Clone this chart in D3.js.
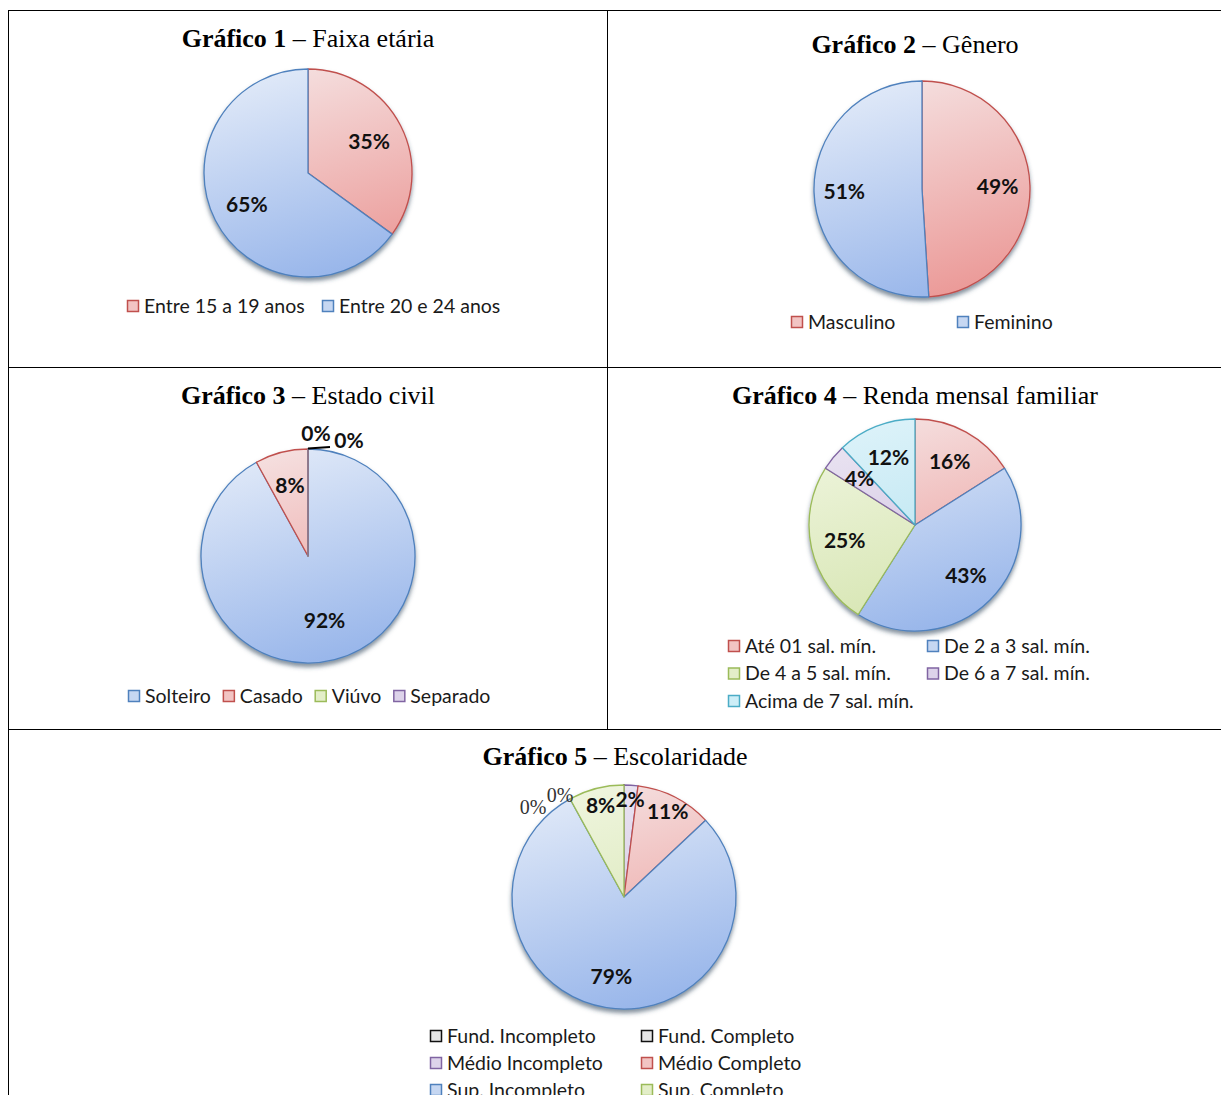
<!DOCTYPE html>
<html><head><meta charset="utf-8">
<script src="https://cdn.jsdelivr.net/npm/d3@7"></script>
<style>
body{margin:0;background:#fff;}
svg{display:block;}
.title{font-family:"Liberation Serif","Times New Roman",serif;font-size:26px;fill:#000;}
.lbl{font-family:Lato,"Open Sans",sans-serif;font-weight:bold;font-size:21px;fill:#111;}
.leg{font-family:Lato,"Open Sans",sans-serif;font-size:19.5px;fill:#1a1a1a;}
</style></head><body>
<script>
// ---- data ----
const titles = [
  ["Gráfico 1", " – Faixa etária"],
  ["Gráfico 2", " – Gênero"],
  ["Gráfico 3", " – Estado civil"],
  ["Gráfico 4", " – Renda mensal familiar"],
  ["Gráfico 5", " – Escolaridade"]
];
const c1Labels = ["Entre 15 a 19 anos", "Entre 20 e 24 anos"];
const c1Values = [35, 65];
const c1Colors = ["red", "blue"];

const c2Labels = ["Masculino", "Feminino"];
const c2Values = [49, 51];
const c2Colors = ["red", "blue"];

const c3Labels = ["Solteiro", "Casado", "Viúvo", "Separado"];
const c3Values = [92, 8, 0, 0];
const c3Colors = ["blue", "red", "green", "purple"];

const c4Labels = ["Até 01 sal. mín.", "De 2 a 3 sal. mín.", "De 4 a 5 sal. mín.", "De 6 a 7 sal. mín.", "Acima de 7 sal. mín."];
const c4Values = [16, 43, 25, 4, 12];
const c4Colors = ["red", "blue", "green", "purple", "cyan"];

const c5Labels = ["Fund. Incompleto", "Fund. Completo", "Médio Incompleto", "Médio Completo", "Sup. Incompleto", "Sup. Completo"];
const c5Values = [0, 0, 2, 11, 79, 8];
const c5Colors = ["gray", "gray", "purple", "red", "blue", "green"];

// ---- styles ----
const palette = {
  red:    {top:"#f5e0e0", bot:"#eb9997", stroke:"#c0504d", legFill:"#f2c4c3"},
  blue:   {top:"#e0e9f8", bot:"#97b5ea", stroke:"#4f81bd", legFill:"#c6d7f2"},
  green:  {top:"#eff5de", bot:"#d4e4ae", stroke:"#9bbb59", legFill:"#e3eec8"},
  purple: {top:"#ebe5f2", bot:"#cbbde0", stroke:"#8064a2", legFill:"#ddd3ea"},
  cyan:   {top:"#dcf2f9", bot:"#b0e1ef", stroke:"#4bacc6", legFill:"#cdeef7"},
  gray:   {top:"#f0f0f0", bot:"#d0d0d0", stroke:"#111111", legFill:"#e6e6e6"}
};

const W = 1221, H = 1095;
const svg = d3.select("body").append("svg").attr("width", W).attr("height", H);
svg.append("rect").attr("width", W).attr("height", H).attr("fill", "#fff");
const defs = svg.append("defs");
const f = defs.append("filter").attr("id","shadow").attr("x","-20%").attr("y","-20%").attr("width","140%").attr("height","140%");
f.append("feDropShadow").attr("dx",0).attr("dy",3.5).attr("stdDeviation",2.2).attr("flood-color","#35465e").attr("flood-opacity",0.6);

// ---- table grid ----
const grid = svg.append("g").attr("stroke","#000").attr("stroke-width",1.2).attr("shape-rendering","crispEdges");
grid.append("line").attr("x1",8).attr("x2",W).attr("y1",10.5).attr("y2",10.5);
grid.append("line").attr("x1",8).attr("x2",W).attr("y1",367.5).attr("y2",367.5);
grid.append("line").attr("x1",8).attr("x2",W).attr("y1",729.5).attr("y2",729.5);
grid.append("line").attr("x1",8.5).attr("x2",8.5).attr("y1",10).attr("y2",H);
grid.append("line").attr("x1",607.5).attr("x2",607.5).attr("y1",10).attr("y2",729);

function title(t, cx, y) {
  const tx = svg.append("text").attr("class","title").attr("x",cx).attr("y",y).attr("text-anchor","middle");
  tx.append("tspan").attr("font-weight","bold").text(t[0]);
  tx.append("tspan").text(t[1]);
}

let gid = 0;
function pie(opts) {
  const {cx, cy, r, values, colors, labelR, zeroLabels} = opts;
  const id = gid++;
  const g = svg.append("g").attr("transform", `translate(${cx},${cy})`);
  const used = [...new Set(colors)];
  used.forEach(c => {
    const lg = defs.append("linearGradient").attr("id",`g${id}${c}`)
      .attr("gradientUnits","userSpaceOnUse").attr("x1",-r*0.3).attr("y1",-r).attr("x2",r*0.3).attr("y2",r);
    lg.append("stop").attr("offset","0%").attr("stop-color",palette[c].top);
    lg.append("stop").attr("offset","100%").attr("stop-color",palette[c].bot);
  });
  const arcs = d3.pie().sort(null).value(d => d)(values);
  const arc = d3.arc().innerRadius(0).outerRadius(r);
  const sg = g.append("g").attr("filter","url(#shadow)");
  sg.selectAll("path").data(arcs).join("path")
    .attr("d", arc)
    .attr("fill", (d,i) => `url(#g${id}${colors[i]})`)
    .attr("stroke", (d,i) => palette[colors[i]].stroke)
    .attr("stroke-width", 1.3)
    .attr("stroke-linejoin","round");
  arcs.forEach((d,i) => {
    if (d.data === 0) return;
    const lr = Array.isArray(labelR) ? labelR[i] : labelR;
    const lab = d3.arc().innerRadius(r*lr).outerRadius(r*lr);
    const [x,y] = lab.centroid(d);
    g.append("text").attr("class","lbl").attr("x",x).attr("y",y).attr("dy","0.35em")
      .attr("text-anchor","middle").text(d.data + "%");
  });
  if (zeroLabels) zeroLabels(g, arcs, r);
  return g;
}

function legend(items, colors, opts) {
  const {x0, y0, colW, rowH = 27, cols, gap} = opts;
  let x = x0;
  items.forEach((t,i) => {
    const col = cols ? i % cols : 0;
    const row = cols ? Math.floor(i / cols) : 0;
    const sx = cols ? x0 + col*colW : x;
    const sy = y0 + row*rowH;
    const p = palette[colors[i]];
    svg.append("rect").attr("x",sx+0.5).attr("y",sy-5.5).attr("width",11).attr("height",11)
      .attr("fill",p.legFill).attr("stroke",p.stroke).attr("stroke-width",1.5);
    const tx = svg.append("text").attr("class","leg").attr("x",sx+17).attr("y",sy).attr("dy","0.35em").text(t);
    if (!cols) x = sx + 17 + tx.node().getComputedTextLength() + gap;
  });
}

// Chart 1
title(titles[0], 308, 47);
pie({cx:308, cy:173, r:104, values:c1Values, colors:c1Colors, labelR:0.66});
legend(c1Labels, c1Colors, {x0:127, y0:306, cols:2, colW:195, rowH:27});

// Chart 2
title(titles[1], 915, 53);
pie({cx:922, cy:189, r:108, values:c2Values, colors:c2Colors, labelR:[0.7, 0.72]});
legend(c2Labels, c2Colors, {x0:791, y0:322, cols:2, colW:166, rowH:27});

// Chart 3
title(titles[2], 308, 404);
pie({cx:308, cy:556, r:107, values:c3Values, colors:c3Colors, labelR:[0.62, 0.68, 0, 0],
  zeroLabels:(g, arcs, r) => {
    g.append("line").attr("x1",0).attr("y1",-r-0.5).attr("x2",22).attr("y2",-r-2)
      .attr("stroke","#000").attr("stroke-width",2);
    g.append("text").attr("class","lbl").attr("x",8).attr("y",-r-15).attr("dy","0.35em").attr("text-anchor","middle").text(arcs[2].data + "%");
    g.append("text").attr("class","lbl").attr("x",41).attr("y",-r-8).attr("dy","0.35em").attr("text-anchor","middle").text(arcs[3].data + "%");
  }});
legend(c3Labels, c3Colors, {x0:128, y0:696, gap:12});

// Chart 4
title(titles[3], 915, 404);
pie({cx:915, cy:525, r:106, values:c4Values, colors:c4Colors, labelR:0.68});
legend(c4Labels, c4Colors, {x0:728, y0:646, cols:2, colW:199, rowH:27.5});

// Chart 5
title(titles[4], 615, 765);
pie({cx:624, cy:897, r:112, values:c5Values, colors:c5Colors, labelR:[0, 0, 0.87, 0.86, 0.72, 0.84],
  zeroLabels:(g, arcs, r) => {
    const zs = g.append("g").attr("font-family","Liberation Serif, serif").attr("font-size",20).attr("fill","#333").attr("text-anchor","middle");
    zs.append("text").attr("x",-91).attr("y",-r*0.8).attr("dy","0.35em").text(arcs[0].data + "%");
    zs.append("text").attr("x",-64).attr("y",-r*0.91).attr("dy","0.35em").text(arcs[1].data + "%");
  }});
legend(c5Labels, c5Colors, {x0:430, y0:1036, cols:2, colW:211, rowH:27});
</script>
</body></html>
